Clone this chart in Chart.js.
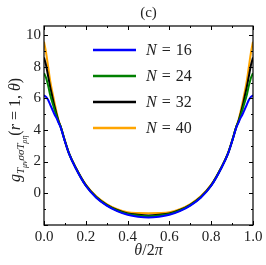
<!DOCTYPE html>
<html>
<head>
<meta charset="utf-8">
<script src="https://cdn.jsdelivr.net/npm/chart.js@4.4.0/dist/chart.umd.min.js"></script>
<style>
  html, body { margin: 0; padding: 0; background: #fff; }
  #wrap { width: 266px; height: 265px; }
</style>
</head>
<body>
<div id="wrap"><canvas id="c"></canvas></div>
<script>
const theta = [0, 0.01, 0.02, 0.03, 0.04, 0.05, 0.06, 0.07, 0.08, 0.1, 0.12, 0.15, 0.2, 0.25, 0.3, 0.35, 0.4, 0.45,
  0.5, 0.55, 0.6, 0.65, 0.7, 0.75, 0.8, 0.85, 0.88, 0.9, 0.92, 0.93, 0.94, 0.95, 0.96, 0.97, 0.98, 0.99, 1]

const g16 = [6.2, 6.1, 5.9, 5.6, 5.3, 5.0, 4.75, 4.45, 4.15, 3.28, 2.48, 1.62, 0.46, -0.3, -0.8, -1.15, -1.38, -1.5,
  -1.55, -1.5, -1.38, -1.15, -0.8, -0.3, 0.46, 1.62, 2.48, 3.28, 4.15, 4.45, 4.75, 5.0, 5.3, 5.6, 5.9, 6.1, 6.2]
const g24 = [7.6, 7.3, 6.8, 6.2, 5.75, 5.3, 4.9, 4.5, 4.2, 3.3, 2.5, 1.64, 0.48, -0.27, -0.77, -1.11, -1.33, -1.43,
  -1.47, -1.43, -1.33, -1.11, -0.77, -0.27, 0.48, 1.64, 2.5, 3.3, 4.2, 4.5, 4.9, 5.3, 5.75, 6.2, 6.8, 7.3, 7.6]
const g32 = [8.6, 8.1, 7.4, 6.7, 6.1, 5.5, 5.0, 4.55, 4.2, 3.3, 2.5, 1.65, 0.5, -0.25, -0.75, -1.08, -1.3, -1.38,
  -1.42, -1.38, -1.3, -1.08, -0.75, -0.25, 0.5, 1.65, 2.5, 3.3, 4.2, 4.55, 5.0, 5.5, 6.1, 6.7, 7.4, 8.1, 8.6]
const g40 = [9.6, 8.9, 8.0, 7.1, 6.4, 5.75, 5.15, 4.6, 4.22, 3.32, 2.52, 1.67, 0.53, -0.21, -0.7, -1.03, -1.22, -1.27,
  -1.28, -1.27, -1.22, -1.03, -0.7, -0.21, 0.53, 1.67, 2.52, 3.32, 4.22, 4.6, 5.15, 5.75, 6.4, 7.1, 8.0, 8.9, 9.6]

const sizes = ['16', '24', '32', '40']
const series = [g16, g24, g32, g40]
const colors = ['#0000ff', '#008000', '#000000', '#ffa500']
const xTicks = [0, 0.2, 0.4, 0.6, 0.8, 1.0]
const yTicks = [0, 2, 4, 6, 8, 10]

const serif = '"Liberation Serif", "DejaVu Serif", serif'

// draw a run of text pieces (italic / size / baseline shift) left to right
function drawRich(ctx, parts, x, y) {
  parts.forEach(p => {
    ctx.font = (p.it ? 'italic ' : '') + p.s + 'px ' + serif
    ctx.fillText(p.t, x, y + (p.dy || 0))
    x += ctx.measureText(p.t).width + (p.gap || 0)
  })
}
function richWidth(ctx, parts) {
  let w = 0
  parts.forEach(p => {
    ctx.font = (p.it ? 'italic ' : '') + p.s + 'px ' + serif
    w += ctx.measureText(p.t).width + (p.gap || 0)
  })
  return w
}

// frame, inward ticks, title, legend and axis labels
const decorations = {
  id: 'decorations',
  afterDraw(chart) {
    const { ctx, chartArea: a, scales } = chart
    const x = scales.x, y = scales.y
    ctx.save()
    ctx.strokeStyle = '#000'
    ctx.lineWidth = 1.2
    ctx.strokeRect(a.left, a.top, a.right - a.left, a.bottom - a.top)

    ctx.lineWidth = 1
    ctx.beginPath()
    for (let i = 0; i <= 10; i++) {
      const px = Math.round(x.getPixelForValue(i / 10)) + 0.5
      const len = i % 2 === 0 ? 4 : 2
      ctx.moveTo(px, a.bottom); ctx.lineTo(px, a.bottom - len)
      ctx.moveTo(px, a.top); ctx.lineTo(px, a.top + len)
    }
    for (let v = -2; v <= 10; v++) {
      const py = Math.round(y.getPixelForValue(v)) + 0.5
      const len = v % 2 === 0 ? 4 : 2
      ctx.moveTo(a.left, py); ctx.lineTo(a.left + len, py)
      ctx.moveTo(a.right, py); ctx.lineTo(a.right - len, py)
    }
    ctx.stroke()

    ctx.fillStyle = '#222'
    ctx.textBaseline = 'middle'

    // panel label
    ctx.font = '15px ' + serif
    ctx.textAlign = 'center'
    ctx.fillText('(c)', (a.left + a.right) / 2, 13)
    ctx.textAlign = 'left'

    // x axis label
    const xl = [
      { t: 'θ', s: 16, it: true },
      { t: '/2', s: 16, it: false },
      { t: 'π', s: 16, it: true }
    ]
    drawRich(ctx, xl, (a.left + a.right) / 2 - richWidth(ctx, xl) / 2, 251)

    // legend
    chart.data.datasets.forEach((ds, i) => {
      const ly = 50 + i * 26
      ctx.strokeStyle = ds.borderColor
      ctx.lineWidth = 2.5
      ctx.beginPath()
      ctx.moveTo(93, ly); ctx.lineTo(136, ly)
      ctx.stroke()
      drawRich(ctx, [
        { t: 'N', s: 16, it: true, gap: 5 },
        { t: '=', s: 16, it: false, gap: 5 },
        { t: sizes[i], s: 16, it: false }
      ], 146, ly + 1)
    })

    // y axis label with subscripts
    const yl = [
      { t: 'g', s: 16, it: true },
      { t: 'T', s: 11, it: true, dy: 4 },
      { t: 'μν', s: 8, it: true, dy: 7 },
      { t: 'σσT', s: 11, it: true, dy: 4 },
      { t: 'ρη', s: 8, it: true, dy: 7 },
      { t: '(', s: 16, it: false },
      { t: 'r', s: 16, it: true },
      { t: ' = 1, ', s: 16, it: false },
      { t: 'θ', s: 16, it: true },
      { t: ')', s: 16, it: false }
    ]
    const total = richWidth(ctx, yl)
    ctx.translate(15, 130)
    ctx.rotate(-Math.PI / 2)
    ctx.textBaseline = 'alphabetic'
    drawRich(ctx, yl, -total / 2, 5)
    ctx.restore()
  }
}

const datasets = series.map((vals, i) => ({
  label: 'N = ' + sizes[i],
  data: theta.map((t, j) => ({ x: t, y: vals[j] })),
  borderColor: colors[i],
  backgroundColor: colors[i],
  borderWidth: 2,
  pointRadius: 0,
  cubicInterpolationMode: 'monotone',
  fill: false
}))

new Chart(document.getElementById('c'), {
  type: 'line',
  data: { datasets },
  options: {
    responsive: true,
    maintainAspectRatio: false,
    animation: false,
    layout: { padding: { top: 26, right: 13, left: 0, bottom: 0 } },
    plugins: { legend: { display: false }, tooltip: { enabled: false } },
    scales: {
      x: {
        type: 'linear',
        min: 0,
        max: 1,
        afterBuildTicks: s => { s.ticks = xTicks.map(v => ({ value: v })) },
        afterFit: s => { s.height = 40 },
        grid: { display: false, drawTicks: false },
        border: { display: false },
        ticks: {
          color: '#222',
          padding: 3,
          maxRotation: 0,
          font: { family: serif, size: 15 },
          callback: v => v.toFixed(1)
        }
      },
      y: {
        min: -2.03,
        max: 10.6,
        afterBuildTicks: s => { s.ticks = yTicks.map(v => ({ value: v })) },
        afterFit: s => { s.width = 44 },
        grid: { display: false, drawTicks: false },
        border: { display: false },
        ticks: {
          color: '#222',
          padding: 3,
          font: { family: serif, size: 15 }
        }
      }
    }
  },
  plugins: [decorations]
})
</script>
</body>
</html>
